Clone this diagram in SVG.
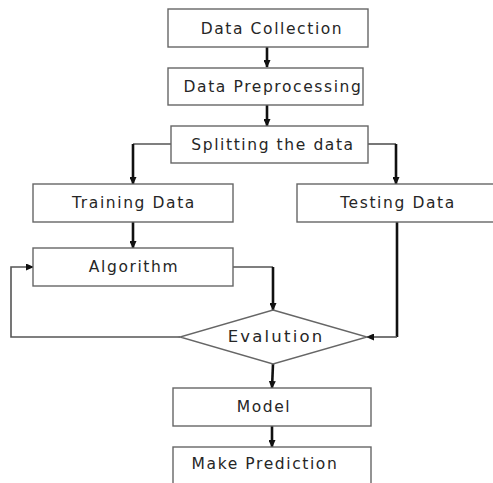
<svg xmlns="http://www.w3.org/2000/svg" width="493" height="483" viewBox="0 0 493 483">
  <defs>
    <marker id="arrow" markerWidth="8" markerHeight="7" refX="7" refY="3.5" orient="auto" markerUnits="userSpaceOnUse">
      <path d="M0,0 L8,3.5 L0,7 Z" fill="#111"/>
    </marker>
    <style>
      .box { fill: #fff; stroke: #666; stroke-width: 1.4; }
      .lbl { font-family: "DejaVu Sans", "Liberation Sans", sans-serif; font-size: 15.5px; fill: #262626; letter-spacing: 1.6px; text-anchor: middle; }
      .big { font-size: 16.5px; letter-spacing: 2.2px; }
      .thin { fill: none; stroke: #555; stroke-width: 1.6; }
      .thick { fill: none; stroke: #111; stroke-width: 2.6; }
    </style>
  </defs>
  <rect width="493" height="483" fill="#fff"/>

  <!-- connectors -->
  <g id="connectors">
    <path class="thick" d="M267,47 V67" marker-end="url(#arrow)"/>
    <path class="thick" d="M267,105 V126" stroke-width="1.8" marker-end="url(#arrow)"/>
    <path class="thin" d="M171,144 H133"/>
    <path class="thick" d="M133,144 V184" marker-end="url(#arrow)"/>
    <path class="thin" d="M368,144 H396"/>
    <path class="thick" d="M396,144 V184" marker-end="url(#arrow)"/>
    <path class="thick" d="M133,222 V248" marker-end="url(#arrow)"/>
    <path class="thin" d="M233,267 H273"/>
    <path class="thick" d="M273,267 V310" marker-end="url(#arrow)"/>
    <path class="thick" d="M397,222 V337"/>
    <path class="thin" d="M397,337 H367" marker-end="url(#arrow)"/>
    <path class="thin" d="M180,337 H11 V267 H33" marker-end="url(#arrow)"/>
    <path class="thick" d="M273,364 L272,388" marker-end="url(#arrow)"/>
    <path class="thick" d="M272,426 V447" marker-end="url(#arrow)"/>
  </g>

  <g id="data-collection">
    <rect class="box" x="168" y="9" width="200" height="38"/>
    <text class="lbl" x="272" y="34">Data Collection</text>
  </g>
  <g id="data-preprocessing">
    <rect class="box" x="168" y="68" width="195" height="37"/>
    <text class="lbl" x="273" y="92">Data Preprocessing</text>
  </g>
  <g id="splitting">
    <rect class="box" x="171" y="126" width="197" height="37"/>
    <text class="lbl" x="273" y="150">Splitting the data</text>
  </g>
  <g id="training-data">
    <rect class="box" x="33" y="184" width="200" height="38"/>
    <text class="lbl" x="134" y="208">Training Data</text>
  </g>
  <g id="testing-data">
    <rect class="box" x="297" y="184" width="210" height="38"/>
    <text class="lbl" x="398" y="208">Testing Data</text>
  </g>
  <g id="algorithm">
    <rect class="box" x="33" y="248" width="200" height="38"/>
    <text class="lbl" x="134" y="272">Algorithm</text>
  </g>
  <g id="evaluation">
    <polygon class="box" points="273,310 367,337 273,364 180,337"/>
    <text class="lbl big" x="276" y="342">Evalution</text>
  </g>
  <g id="model">
    <rect class="box" x="173" y="388" width="198" height="38"/>
    <text class="lbl" x="264" y="412">Model</text>
  </g>
  <g id="make-prediction">
    <rect class="box" x="173" y="447" width="198" height="50"/>
    <text class="lbl" x="265" y="469">Make Prediction</text>
  </g>
</svg>
